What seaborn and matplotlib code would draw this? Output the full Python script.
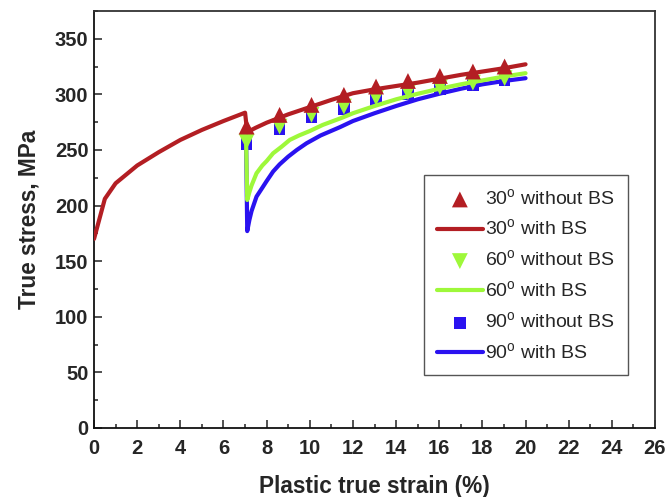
import numpy as np
import pandas as pd
import matplotlib
matplotlib.use('Agg')
import matplotlib.pyplot as plt
from matplotlib.ticker import MultipleLocator
import seaborn as sns

# curves (strain %, stress MPa)
red_x = [0, 0.5, 1, 2, 3, 4, 5, 6, 7.0, 7.1, 7.5, 8, 8.6, 9, 10, 11, 12, 13, 14, 15, 16, 17, 18, 19, 20]
red_y = [170, 206, 220, 236, 248, 259, 268, 276, 283.5, 266, 270, 274.5, 279, 282, 288.5, 295, 301, 304.5, 307.5, 310.5, 314, 317.5, 320.5, 323.5, 327]

green_x = [7.05, 7.1, 7.2, 7.3, 7.53, 7.8, 8.0, 8.3, 8.7, 9.07, 9.5, 10, 10.6, 11.5, 12, 13, 14, 15, 16, 17, 18, 19, 20]
green_y = [255, 205, 212, 218, 229, 236, 240, 247, 253, 259, 263, 267, 272.5, 279, 283, 289.5, 295.5, 300.5, 305, 309, 312.5, 316, 319]

blue_x = [7.05, 7.1, 7.2, 7.3, 7.53, 7.8, 8.0, 8.3, 8.6, 9, 9.4, 9.85, 10.5, 11.4, 12, 13, 14, 15, 16, 17, 18, 19, 20]
blue_y = [255, 177, 187, 195, 208, 216, 222, 230.6, 237, 244, 250, 256, 263, 270.5, 276, 283, 289.5, 295.5, 300.5, 305, 309, 312, 314.5]

# discrete points (without BS)
mark_x = [7.07, 8.6, 10.08, 11.58, 13.07, 14.55, 16.03, 17.56, 19.03]
red_pts = [271, 281.5, 290.5, 299.5, 307, 312, 316.5, 320.5, 325]
green_pts = [257.5, 271, 281.5, 289, 297, 302, 306.5, 310.5, 314.5]
blue_pts = [255.5, 269, 279.5, 287, 295, 300, 304.5, 308.5, 312.5]

RED = '#B31E23'
GREEN = '#9EF83A'
BLUE = '#2A12F0'

sns.set_style('ticks')
plt.rcParams['font.family'] = ['Liberation Sans', 'DejaVu Sans']
plt.rcParams['mathtext.fontset'] = 'custom'
plt.rcParams['mathtext.rm'] = 'Liberation Sans'

fig = plt.figure(figsize=(6.67, 4.97), dpi=100)
ax = fig.add_axes([0.141, 0.139, 0.841, 0.839])

deg = '$^{\\mathrm{o}}$'

sns.scatterplot(x=mark_x, y=blue_pts, marker='s', s=70, color=BLUE, edgecolor='none',
                label='90' + deg + ' without BS', ax=ax, zorder=2)
sns.lineplot(x=blue_x, y=blue_y, color=BLUE, lw=3, label='90' + deg + ' with BS', ax=ax, zorder=2)
sns.scatterplot(x=mark_x, y=green_pts, marker='v', s=130, color=GREEN, edgecolor='none',
                label='60' + deg + ' without BS', ax=ax, zorder=3)
sns.lineplot(x=green_x, y=green_y, color=GREEN, lw=3, label='60' + deg + ' with BS', ax=ax, zorder=3)
sns.scatterplot(x=mark_x, y=red_pts, marker='^', s=130, color=RED, edgecolor='none',
                label='30' + deg + ' without BS', ax=ax, zorder=4)
sns.lineplot(x=red_x, y=red_y, color=RED, lw=3, label='30' + deg + ' with BS', ax=ax, zorder=4)

ax.set_xlim(0, 26)
ax.set_ylim(0, 375)
ax.xaxis.set_major_locator(MultipleLocator(2))
ax.xaxis.set_minor_locator(MultipleLocator(1))
ax.yaxis.set_major_locator(MultipleLocator(50))
ax.yaxis.set_minor_locator(MultipleLocator(25))
ax.tick_params(which='both', direction='in', top=False, right=False, width=1.1, color='#222222')
ax.tick_params(which='major', length=6, labelsize=14.5)
ax.tick_params(which='minor', length=3)
ax.tick_params(axis='x', which='major', pad=8)
ax.tick_params(axis='y', which='major', pad=4)
for lab in ax.get_xticklabels() + ax.get_yticklabels():
    lab.set_fontweight('bold')

for side in ['left', 'bottom']:
    ax.spines[side].set_color('#111111')
    ax.spines[side].set_linewidth(1.3)
for side in ['top', 'right']:
    ax.spines[side].set_color('#333333')
    ax.spines[side].set_linewidth(1.3)

ax.set_xlabel('Plastic true strain (%)', fontsize=16.3, fontweight='bold', labelpad=12)
ax.set_ylabel('True stress, MPa', fontsize=16.3, fontweight='bold', labelpad=10)

handles, labels = ax.get_legend_handles_labels()
order = [4, 5, 2, 3, 0, 1]
leg = ax.legend([handles[i] for i in order], [labels[i] for i in order],
                loc='upper left', bbox_to_anchor=(0.588, 0.606), fontsize=14,
                frameon=True, fancybox=False, edgecolor='#555555', framealpha=1,
                handlelength=2.4, handletextpad=0.1, labelspacing=0.52,
                borderpad=0.65, borderaxespad=0, markerscale=1.0)
leg.get_frame().set_linewidth(1.0)

fig.savefig('out.png', dpi=100)
